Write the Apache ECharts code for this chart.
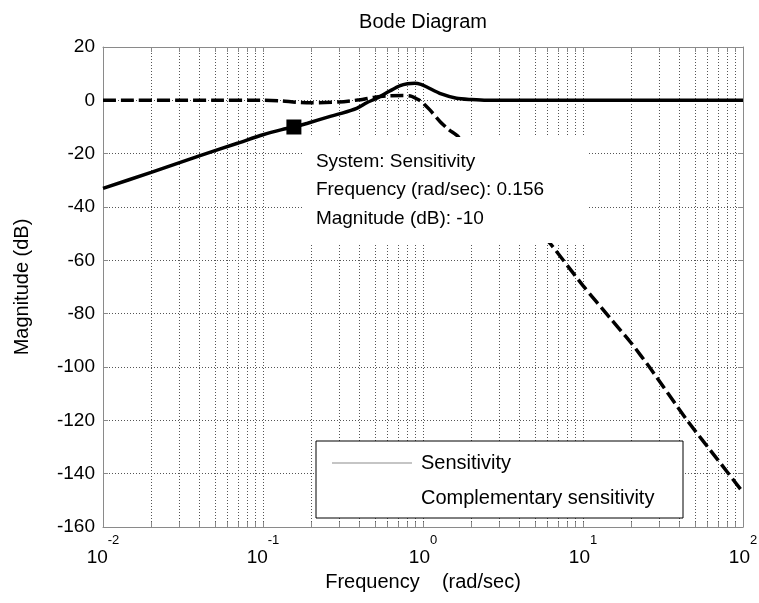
<!DOCTYPE html>
<html>
<head>
<meta charset="utf-8">
<script src="https://cdn.jsdelivr.net/npm/echarts@6/dist/echarts.min.js"></script>
<style>
html,body{margin:0;padding:0;background:#fff;}
#chart{width:759px;height:603px;}
</style>
</head>
<body>
<div id="chart"></div>
<script>
// ---- data ----
const titleText = 'Bode Diagram';
const xAxisName = 'Frequency    (rad/sec)';
const yAxisName = 'Magnitude (dB)';
const seriesNames = ['Sensitivity', 'Complementary sensitivity'];

// Sensitivity (solid)
const freqS = [0.01, 0.02, 0.04, 0.07, 0.1, 0.131, 0.156, 0.19, 0.26, 0.3, 0.385, 0.445, 0.514, 0.62, 0.72, 0.8, 0.89, 0.97, 1.05, 1.3, 1.62, 2.0, 2.5, 5, 10, 50, 100];
const magS  = [-33, -27, -20.8, -16, -12.9, -11, -10, -8.6, -6.1, -5.1, -3, -0.9, 0.8, 3.5, 5.5, 6.2, 6.4, 6.0, 5.1, 2.4, 0.8, 0.3, 0, 0, 0, 0, 0];

// Complementary sensitivity (dashed)
const freqT = [0.01, 0.05, 0.1, 0.13, 0.16, 0.2, 0.3, 0.4, 0.5, 0.6, 0.75, 0.85, 0.95, 1.0, 1.1, 1.28, 1.45, 1.66, 2.5, 4, 6.22, 10, 14.7, 20, 26.2, 44.5, 70, 100];
const magT  = [0, 0, 0, -0.2, -0.7, -0.9, -0.6, 0.2, 1.2, 1.7, 1.8, 1.5, 0, -1, -3.5, -8, -11, -13.6, -26, -40, -53.6, -69.5, -81.5, -91, -100.3, -119.8, -135, -147];

// data tip
const tipFreq = 0.156;
const tipMag = -10;
const tipLines = ['System: Sensitivity', 'Frequency (rad/sec): 0.156', 'Magnitude (dB): -10'];

// axes
const yMin = -160, yMax = 20, yStep = 20;
const xMin = 0.01, xMax = 100;
const xLabelValues = [0.01, 0.1, 1, 10, 100];
const xLabelExponents = ['-2', '-1', '0', '1', '2'];
const xGridValues = [
  0.01, 0.02, 0.03, 0.04, 0.05, 0.06, 0.07, 0.08, 0.09,
  0.1, 0.2, 0.3, 0.4, 0.5, 0.6, 0.7, 0.8, 0.9,
  1, 2, 3, 4, 5, 6, 7, 8, 9,
  10, 20, 30, 40, 50, 60, 70, 80, 90, 100
];

// ---- build chart ----
const FONT = 'Liberation Sans, Arial, Helvetica, sans-serif';
const AXIS_COLOR = '#8a8a8a';
const GRID_STYLE = {color: '#555', width: 1, type: [1, 2]};

function pairs(xs, ys) { return xs.map((x, i) => [x, ys[i]]); }

const chart = echarts.init(document.getElementById('chart'), null, {renderer: 'canvas'});

const option = {
  backgroundColor: '#fff',
  animation: false,
  grid: {left: 103, right: 16, top: 47, bottom: 76, containLabel: false, outerBoundsMode: 'none'},
  xAxis: [
    {
      type: 'log', logBase: 10, min: xMin, max: xMax, position: 'bottom',
      name: xAxisName, nameLocation: 'middle', nameGap: 45,
      nameTextStyle: {fontSize: 20, color: '#000', fontFamily: FONT},
      axisLine: {show: true, onZero: false, lineStyle: {color: AXIS_COLOR, width: 1}},
      axisTick: {show: true, inside: true, length: 5, customValues: xGridValues, lineStyle: {color: AXIS_COLOR}},
      axisLabel: {
        show: true, margin: 7, customValues: xLabelValues,
        formatter: function (v) {
          const i = xLabelValues.findIndex(t => Math.abs(t - v) / t < 1e-6);
          return '{b|10}{e|' + (i >= 0 ? xLabelExponents[i] : '') + '}';
        },
        rich: {
          b: {fontSize: 19, fontFamily: FONT, color: '#000', lineHeight: 20, verticalAlign: 'bottom'},
          e: {fontSize: 13, fontFamily: FONT, color: '#000', verticalAlign: 'top', padding: [0, 0, 20, 0]}
        }
      },
      splitLine: {show: true, lineStyle: GRID_STYLE}
    },
    {
      type: 'log', logBase: 10, min: xMin, max: xMax, position: 'top',
      axisLine: {show: true, onZero: false, lineStyle: {color: AXIS_COLOR, width: 1}},
      axisTick: {show: true, inside: true, length: 5, customValues: xGridValues, lineStyle: {color: AXIS_COLOR}},
      axisLabel: {show: false},
      splitLine: {show: false}
    }
  ],
  yAxis: [
    {
      type: 'value', min: yMin, max: yMax, interval: yStep, position: 'left',
      name: yAxisName, nameLocation: 'middle', nameGap: 71,
      nameTextStyle: {fontSize: 20, color: '#000', fontFamily: FONT},
      axisLine: {show: true, onZero: false, lineStyle: {color: AXIS_COLOR, width: 1}},
      axisTick: {show: true, inside: true, length: 5, lineStyle: {color: AXIS_COLOR}},
      axisLabel: {fontSize: 19, color: '#000', fontFamily: FONT, margin: 8},
      splitLine: {show: true, lineStyle: GRID_STYLE}
    },
    {
      type: 'value', min: yMin, max: yMax, interval: yStep, position: 'right',
      axisLine: {show: true, onZero: false, lineStyle: {color: AXIS_COLOR, width: 1}},
      axisTick: {show: true, inside: true, length: 5, lineStyle: {color: AXIS_COLOR}},
      axisLabel: {show: false},
      splitLine: {show: false}
    }
  ],
  legend: {
    orient: 'vertical', left: 316, top: 441,
    backgroundColor: '#fff', borderColor: '#000', borderWidth: 1, borderRadius: 0,
    padding: [12, 12, 10, 16], itemGap: 15, itemWidth: 80, itemHeight: 1,
    selectedMode: false,
    textStyle: {fontSize: 20, color: '#000', fontFamily: FONT, lineHeight: 20, width: 250, padding: [0, 0, 0, 4]},
    data: [
      {name: seriesNames[0], icon: 'rect', itemStyle: {color: '#8c8c8c'}},
      {name: seriesNames[1], icon: 'none'}
    ]
  },
  series: [
    {
      name: seriesNames[0], type: 'line', xAxisIndex: 0, yAxisIndex: 0,
      data: pairs(freqS, magS), symbol: 'none', smooth: 0.25, z: 3,
      lineStyle: {color: '#000', width: 3.5, type: 'solid'}
    },
    {
      name: seriesNames[1], type: 'line', xAxisIndex: 0, yAxisIndex: 0,
      data: pairs(freqT, magT), symbol: 'none', smooth: 0.25, z: 2,
      lineStyle: {color: '#000', width: 3.5, type: [13, 5]}
    },
    {
      name: 'datatip', type: 'scatter', xAxisIndex: 0, yAxisIndex: 0,
      data: [[tipFreq, tipMag]], symbol: 'rect', symbolSize: 15, z: 5,
      itemStyle: {color: '#000', opacity: 1}, silent: true
    }
  ]
};
chart.setOption(option);

// data tip box placed just below-right of the marker, through the chart's own scale
const p = chart.convertToPixel({xAxisIndex: 0, yAxisIndex: 0}, [tipFreq, tipMag]);
const boxX = p[0] + 10, boxY = p[1] + 10;
chart.setOption({
  graphic: [
    {type: 'text', z: 60,
     style: {text: titleText, x: 423, y: 22, font: '20px ' + FONT, fill: '#000', align: 'center', verticalAlign: 'middle'}},
    {type: 'rect', z: 50, silent: true,
     shape: {x: boxX, y: boxY, width: 285, height: 106}, style: {fill: '#fff'}},
    {type: 'text', z: 51, style: {text: tipLines[0], x: boxX + 12, y: boxY + 25, font: '19px ' + FONT, fill: '#000', verticalAlign: 'middle'}},
    {type: 'text', z: 51, style: {text: tipLines[1], x: boxX + 12, y: boxY + 53, font: '19px ' + FONT, fill: '#000', verticalAlign: 'middle'}},
    {type: 'text', z: 51, style: {text: tipLines[2], x: boxX + 12, y: boxY + 82, font: '19px ' + FONT, fill: '#000', verticalAlign: 'middle'}}
  ]
});
</script>
</body>
</html>
